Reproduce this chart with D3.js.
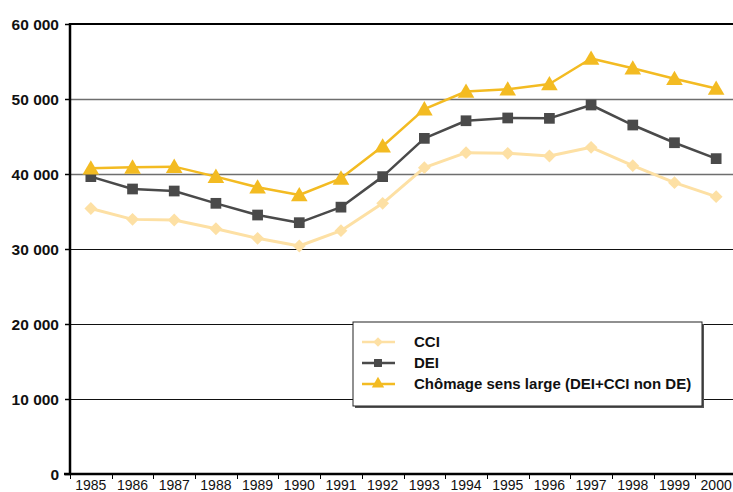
<!DOCTYPE html>
<html>
<head>
<meta charset="utf-8">
<script src="https://cdn.jsdelivr.net/npm/d3@7"></script>
<style>
  body { margin: 0; background: #fff; }
  svg { display: block; font-family: Arial, "Liberation Sans", Helvetica, sans-serif; }
</style>
</head>
<body>
<div id="chart"></div>
<script>
var years = ["1985","1986","1987","1988","1989","1990","1991","1992","1993","1994","1995","1996","1997","1998","1999","2000"];
var cci = [35400, 33950, 33870, 32700, 31420, 30400, 32440, 36090, 40840, 42840, 42760, 42400, 43560, 41110, 38840, 36980];
var dei = [39650, 38000, 37730, 36090, 34530, 33510, 35580, 39650, 44750, 47100, 47470, 47420, 49200, 46530, 44170, 42050];
var large = [40760, 40890, 40980, 39650, 38230, 37200, 39420, 43700, 48650, 51000, 51300, 52000, 55400, 54100, 52700, 51400];
var yTicks = [0, 10000, 20000, 30000, 40000, 50000, 60000];

var series = [
  {name: "CCI", values: cci, color: "#fde0a4", shape: d3.symbolSquare, rot: 45, size: 82, width: 3},
  {name: "DEI", values: dei, color: "#4a4a4a", shape: d3.symbolSquare, rot: 0, size: 115, width: 2.5},
  {name: "Chômage sens large (DEI+CCI non DE)", values: large, color: "#f3bb22", shape: d3.symbolTriangle, rot: 0, size: 120, width: 2.5}
];

var width = 733, height = 492;
var margin = {top: 24, right: -4, bottom: 18, left: 70};
var gw = width - margin.left - margin.right,
    gh = height - margin.top - margin.bottom;

var svg = d3.select("#chart").append("svg")
  .attr("width", width)
  .attr("height", height);

var g = svg.append("g")
  .attr("transform", "translate(" + margin.left + "," + margin.top + ")");

var x = d3.scaleBand().domain(years).range([0, gw]);
var y = d3.scaleLinear().domain([0, 60000]).range([gh, 0]);
var fmt = function(d) { return d3.format(",")(d).replace(/,/g, " "); };
var font = "Arial, 'Liberation Sans', Helvetica, sans-serif";

// grid lines
g.selectAll("line.grid")
  .data(yTicks.filter(function(d) { return d > 0 && d < 60000; })).enter()
  .append("line")
  .attr("class", "grid")
  .attr("x1", 0).attr("x2", gw)
  .attr("y1", function(d) { return Math.round(y(d)) + 0.5; })
  .attr("y2", function(d) { return Math.round(y(d)) + 0.5; })
  .style("stroke", function(d) { return d >= 40000 ? "#6e6e6e" : "#111"; })
  .style("stroke-width", function(d) { return d >= 40000 ? 1.5 : 1; });

// top border
g.append("line")
  .attr("x1", 0).attr("x2", gw)
  .attr("y1", y(60000)).attr("y2", y(60000))
  .style("stroke", "#000").style("stroke-width", 2);

// y axis
var yAxis = g.append("g")
  .call(d3.axisLeft(y).tickValues(yTicks).tickSize(5).tickFormat(fmt));
yAxis.select(".domain").remove();
yAxis.selectAll("line").style("stroke", "#000").style("stroke-width", 1.5);
yAxis.selectAll("text")
  .attr("x", -11)
  .attr("dy", "0.36em")
  .style("font-family", font)
  .style("font-size", "15.5px")
  .style("font-weight", "bold")
  .style("fill", "#111");

g.append("line")
  .attr("x1", 0).attr("x2", 0)
  .attr("y1", -1).attr("y2", gh + 1)
  .style("stroke", "#000").style("stroke-width", 2.5);

// x axis
var xAxis = g.append("g")
  .attr("transform", "translate(0," + gh + ")")
  .call(d3.axisBottom(x).tickSize(0));
xAxis.select(".domain").remove();
xAxis.selectAll("text")
  .attr("y", 16)
  .attr("dy", 0)
  .style("font-family", font)
  .style("font-size", "14px")
  .style("fill", "#111");

g.append("g").selectAll("line")
  .data(years).enter()
  .append("line")
  .attr("x1", function(d) { return Math.round(x(d)) + 0.5; })
  .attr("x2", function(d) { return Math.round(x(d)) + 0.5; })
  .attr("y1", gh).attr("y2", gh + 5)
  .style("stroke", "#000").style("stroke-width", 1);

g.append("line")
  .attr("x1", -6).attr("x2", gw)
  .attr("y1", gh).attr("y2", gh)
  .style("stroke", "#000").style("stroke-width", 2.5);

// lines + markers
var line = d3.line()
  .x(function(d, i) { return x(years[i]) + x.bandwidth() / 2; })
  .y(function(d) { return y(d); });

series.forEach(function(s, k) {
  g.append("path")
    .datum(s.values)
    .attr("d", line)
    .style("fill", "none")
    .style("stroke", s.color)
    .style("stroke-width", s.width)
    .style("stroke-linejoin", "round");

  g.selectAll("path.mark" + k)
    .data(s.values).enter()
    .append("path")
    .attr("class", "mark" + k)
    .attr("d", d3.symbol().type(s.shape).size(s.size))
    .attr("transform", function(d, i) {
      var dy = s.shape === d3.symbolTriangle ? 1.5 : 0;
      return "translate(" + (x(years[i]) + x.bandwidth() / 2) + "," + (y(d) + dy) + ") rotate(" + s.rot + ")";
    })
    .style("fill", s.color);
});

// legend
var legend = svg.append("g")
  .attr("transform", "translate(353,322)");

legend.append("rect")
  .attr("x", 2).attr("y", 2)
  .attr("width", 349).attr("height", 84)
  .style("fill", "#555");

legend.append("rect")
  .attr("x", 0).attr("y", 0)
  .attr("width", 349).attr("height", 84)
  .style("fill", "#fff")
  .style("stroke", "#222")
  .style("stroke-width", 1);

var item = legend.selectAll("g.item")
  .data(series).enter()
  .append("g")
  .attr("class", "item")
  .attr("transform", function(d, i) { return "translate(0," + (20 + i * 21) + ")"; });

item.append("line")
  .attr("x1", 9).attr("x2", 42)
  .attr("y1", 0).attr("y2", 0)
  .style("stroke", function(d) { return d.color; })
  .style("stroke-width", 2.5);

item.append("path")
  .attr("d", function(d) { return d3.symbol().type(d.shape).size(d.size * 0.55)(); })
  .attr("transform", function(d) { return "translate(25,0) rotate(" + d.rot + ")"; })
  .style("fill", function(d) { return d.color; });

item.append("text")
  .attr("x", 61)
  .attr("y", 5)
  .style("font-family", font)
  .style("font-size", "15px")
  .style("font-weight", "bold")
  .style("fill", "#111")
  .text(function(d) { return d.name; });
</script>
</body>
</html>
